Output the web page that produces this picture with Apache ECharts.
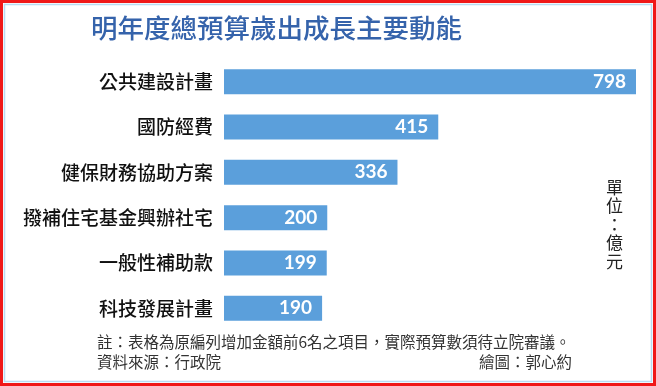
<!DOCTYPE html>
<html>
<head>
<meta charset="utf-8">
<script src="https://cdn.jsdelivr.net/npm/echarts@6/dist/echarts.min.js"></script>
<style>
html,body{margin:0;padding:0;background:#fff;}
#main{width:656px;height:386px;}
</style>
</head>
<body>
<div id="main"></div>
<script>
const categories = ['公共建設計畫','國防經費','健保財務協助方案','撥補住宅基金興辦社宅','一般性補助款','科技發展計畫'];
const values = [798, 415, 336, 200, 199, 190];
const titleText = '明年度總預算歲出成長主要動能';
const noteText = '註：表格為原編列增加金額前6名之項目，實際預算數須待立院審議。';
const sourceText = '資料來源：行政院';
const creditText = '繪圖：郭心約';
const unitText = '單位：億元';

const cjk = '"Noto Sans CJK TC","Noto Sans CJK SC",sans-serif';
const chart = echarts.init(document.getElementById('main'), null, {renderer:'canvas'});
chart.setOption({
  backgroundColor:'#fff',
  animation:false,
  grid:{left:224, right:20, top:59, bottom:55, containLabel:false},
  xAxis:{type:'value', min:0, max:798, show:false},
  yAxis:{type:'category', inverse:true, data:categories,
    axisLine:{show:false}, axisTick:{show:false}, splitLine:{show:false},
    axisLabel:{fontFamily:cjk, fontSize:19, fontWeight:500, color:'#111', margin:11}},
  series:[{type:'bar', data:values, barWidth:25, itemStyle:{color:'#5b9fdb'},
    label:{show:true, position:'insideRight', distance:10, color:'#fff',
      fontFamily:'Lato, "DejaVu Sans", sans-serif', fontWeight:'bold', fontSize:19}}],
  graphic:[
    {type:'rect', shape:{x:1.5,y:1.5,width:653,height:383}, style:{fill:'none', stroke:'#f01818', lineWidth:3}, silent:true},
    {type:'rect', shape:{x:4.5,y:4.5,width:647,height:377}, style:{fill:'none', stroke:'#b8dcf2', lineWidth:1.5}, silent:true},
    {type:'text', left:91, top:15, style:{text:titleText, fill:'#3563ab', font:'500 26.5px '+cjk}},
    {type:'text', left:97, top:334, style:{text:noteText, fill:'#333', font:'15.5px '+cjk}},
    {type:'text', left:97, top:354, style:{text:sourceText, fill:'#333', font:'15.5px '+cjk}},
    {type:'text', right:84, top:354, style:{text:creditText, fill:'#333', font:'15.5px '+cjk}},
    {type:'text', left:606, top:178, style:{text:unitText.split('').join('\n'), fill:'#222', font:'17px '+cjk, lineHeight:18.5, align:'left'}}
  ]
});
</script>
</body>
</html>
